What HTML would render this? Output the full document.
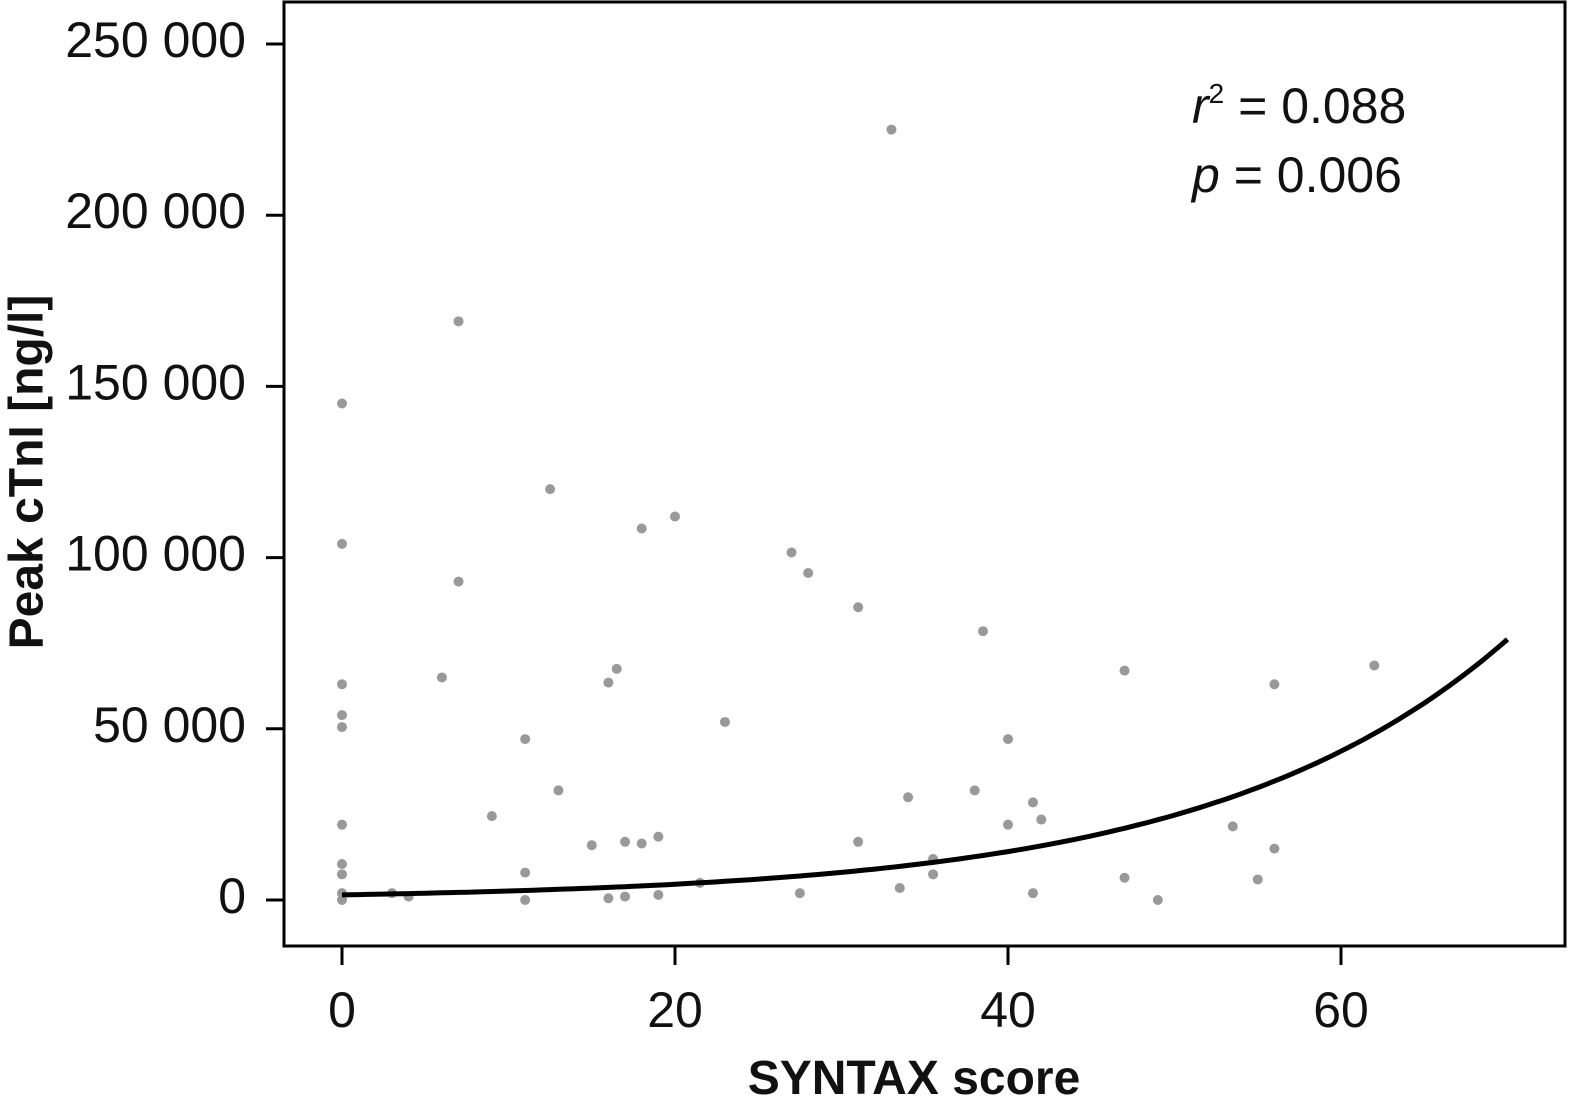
<!DOCTYPE html>
<html><head><meta charset="utf-8"><style>
body{margin:0;background:#fff}
svg text{font-family:"Liberation Sans",sans-serif;fill:#111}
</style></head><body>
<svg width="1579" height="1104" id="chart">
<rect x="284" y="2" width="1281" height="944" fill="none" stroke="#000" stroke-width="3"/>
<g id="yaxis"></g>
<g id="xaxis"></g>
<g id="pts"></g>
<path id="fit" fill="none" stroke="#000" stroke-width="5"/>
<text x="27" y="472" font-size="48" font-weight="bold" text-anchor="middle" transform="rotate(-90 27 472)" dominant-baseline="central">Peak cTnI [ng/l]</text>
<text x="914" y="1094" font-size="48" font-weight="bold" text-anchor="middle">SYNTAX score</text>
<text x="1192" y="123" font-size="50"><tspan font-style="italic">r</tspan><tspan font-size="28" dy="-20">2</tspan><tspan dy="20"> = 0.088</tspan></text>
<text x="1192" y="192" font-size="50"><tspan font-style="italic">p</tspan> = 0.006</text>
</svg>
<script>
const xTicks=[0,20,40,60];
const yTicks=[0,50000,100000,150000,200000,250000];
const yTickLabels=["0","50 000","100 000","150 000","200 000","250 000"];
const xs=[0,0,0,0,0,0,0,0,0,0,3,4,6,7,7,9,11,11,11,12.5,13,15,16,16,16.5,17,17,18,18,19,19,20,21.5,23,27,27.5,28,31,31,33,33.5,34,35.5,35.5,38,38.5,40,40,41.5,41.5,42,47,47,49,53.5,55,56,56,62];
const ys=[145000,104000,63000,54000,50500,22000,10500,7500,2000,0,2000,1000,65000,169000,93000,24500,47000,8000,0,120000,32000,16000,63500,500,67500,17000,1000,108500,16500,18500,1500,112000,5000,52000,101500,2000,95500,85500,17000,225000,3500,30000,12000,7500,32000,78500,47000,22000,28500,2000,23500,67000,6500,0,21500,6000,63000,15000,68500];
const fitA=[1500];const fitB=[0.0561];const fitRange=[0,70];
const X=v=>342+v*16.65, Y=v=>900-v*(856/250000);
const NS="http://www.w3.org/2000/svg";
const ya=document.getElementById('yaxis'),xa=document.getElementById('xaxis'),pg=document.getElementById('pts');
yTicks.forEach((t,i)=>{
 const l=document.createElementNS(NS,'line');
 l.setAttribute('x1',266);l.setAttribute('x2',284);l.setAttribute('y1',Y(t));l.setAttribute('y2',Y(t));l.setAttribute('stroke','#000');l.setAttribute('stroke-width',3);
 
 
 ya.appendChild(l);
 const tx=document.createElementNS(NS,'text');
 tx.setAttribute('x',246);tx.setAttribute('y',Y(t)+13);tx.setAttribute('text-anchor','end');tx.setAttribute('font-size',50);tx.setAttribute('fill','#222');tx.textContent=yTickLabels[i];
 
 
 ya.appendChild(tx);
});
xTicks.forEach(t=>{
 const l=document.createElementNS(NS,'line');
 l.setAttribute('x1',X(t));l.setAttribute('x2',X(t));l.setAttribute('y1',946);l.setAttribute('y2',965);l.setAttribute('stroke','#000');l.setAttribute('stroke-width',3);
 
 
 xa.appendChild(l);
 const tx=document.createElementNS(NS,'text');
 tx.setAttribute('x',X(t));tx.setAttribute('y',1027);tx.setAttribute('text-anchor','middle');tx.setAttribute('font-size',50);tx.setAttribute('fill','#222');tx.textContent=t;
 
 
 xa.appendChild(tx);
});
xs.forEach((x,i)=>{
 const c=document.createElementNS(NS,'circle');
 c.setAttribute('cx',X(x));c.setAttribute('cy',Y(ys[i]));c.setAttribute('r',5);c.setAttribute('fill','#999');
 
 
 pg.appendChild(c);
});
let d='';
for(let x=fitRange[0];x<=fitRange[1];x+=0.5){d+=(d?'L':'M')+X(x).toFixed(1)+','+Y(fitA[0]*Math.exp(fitB[0]*x)).toFixed(1);}
document.getElementById('fit').setAttribute('d',d);
</script>
</body></html>
